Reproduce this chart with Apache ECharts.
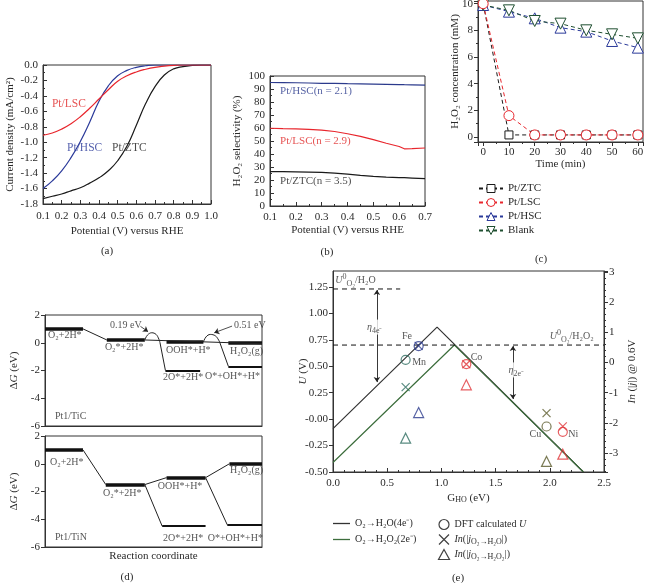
<!DOCTYPE html>
<html><head><meta charset="utf-8">
<script src="https://cdn.jsdelivr.net/npm/echarts@6/dist/echarts.min.js"></script>
<style>html,body{margin:0;padding:0;background:#fff}#c{width:645px;height:583px}</style>
</head><body><div id="c"></div>
<script>
// ---------- (a) LSV curves ----------
const potA = [0.10,0.15,0.20,0.25,0.30,0.35,0.40,0.45,0.50,0.55,0.60,0.65,0.70,0.75,0.80,0.85,0.90,0.95,1.00];
const ztcA = [-1.73,-1.70,-1.67,-1.63,-1.59,-1.53,-1.46,-1.37,-1.24,-1.05,-0.78,-0.50,-0.28,-0.13,-0.05,-0.02,-0.005,0,0];
const hscA = [-1.60,-1.50,-1.37,-1.20,-0.99,-0.74,-0.47,-0.27,-0.14,-0.07,-0.03,-0.01,0,0,0,0,0,0,0];
const lscA = [-0.91,-0.88,-0.83,-0.76,-0.67,-0.56,-0.44,-0.32,-0.21,-0.14,-0.09,-0.055,-0.03,-0.015,-0.005,0,0,0,0];
// ---------- (b) selectivity ----------
const potB = [0.10,0.15,0.20,0.25,0.30,0.35,0.40,0.45,0.50,0.55,0.60,0.62,0.65,0.70];
const hscB = [95.0,94.9,94.8,94.6,94.4,94.3,94.1,94.0,93.8,93.6,93.4,93.3,93.2,93.0];
const lscB = [59.8,59.5,59.3,59.0,58.3,57.3,55.6,53.5,51.0,48.3,45.8,44.0,44.2,44.6];
const ztcB = [26.5,26.4,26.3,26.1,25.8,25.3,24.5,23.5,22.8,22.2,21.9,21.8,21.5,21.0];
// ---------- (c) H2O2 decomposition ----------
const timeC = [0,10,20,30,40,50,60];
const ztcC = [10.0,0.15,0.15,0.15,0.15,0.15,0.15];
const lscC = [10.0,1.6,0.15,0.15,0.15,0.15,0.15];
const hscC = [9.9,9.4,8.9,8.2,7.9,7.2,6.7];
const blankC = [9.9,9.5,8.7,8.5,8.0,7.7,7.4];
// ---------- (d) free energy diagrams: [xStart, xEnd, G] ----------
const ticThick = [[0,1.75,1.0],[2.85,4.6,0.2],[5.6,7.3,0.05],[8.45,10,0.0]];
const ticThin = [[5.55,7.15,-2.0],[8.45,10,-1.7]];
const ticLinks = [[[1.75,1.0],[2.85,0.2]],[[4.6,0.2],[10,-0.07]],[[5.3,0.0],[5.55,-2.0]],[[8.06,0.0],[8.45,-1.7]]];
const ticHump1 = [[4.6,0.2],[4.72,0.55],[4.92,0.72],[5.12,0.6],[5.25,0.25],[5.3,0.0]];
const ticHump2 = [[7.3,0.05],[7.42,0.42],[7.62,0.6],[7.85,0.5],[8.0,0.2],[8.06,0.0]];
const ticArrows = [[[4.4,1.18],[4.75,0.8]],[[8.62,1.2],[7.8,0.72]]];
const tinThick = [[0,1.75,1.0],[2.8,4.6,-1.5],[5.6,7.4,-1.0],[8.5,10,0.0]];
const tinThin = [[5.4,7.4,-4.5],[8.4,10,-4.4]];
const tinLinks = [[[1.75,1.0],[2.8,-1.5]],[[4.6,-1.5],[5.6,-1.0]],[[4.6,-1.5],[5.4,-4.5]],[[7.4,-1.0],[8.5,0.0]],[[7.4,-1.0],[8.4,-4.4]]];
// ---------- (e) volcano plot ----------
const metals = ['Fe','Mn','Co','Cu','Ni'];
const metalColors = ['#2b3a8c','#2f6e62','#e0363a','#5a5a2a','#e0363a'];
const gHO = [0.79,0.67,1.23,1.97,2.12];
const uDFT = [0.69,0.56,0.52,-0.07,-0.12];
const lnJ4e = [0.55,-0.82,-0.06,-1.68,-2.12];
const lnJ2e = [-1.66,-2.51,-0.74,-3.28,-3.04];
const line4eX = [0,0.96,2.31], line4eU = [-0.09,0.87,-0.5];
const line2eX = [0,1.12,2.31], line2eU = [-0.41,0.70,-0.5];
const uH2O = 1.23, uH2O2 = 0.70;

const FONT = 'Liberation Serif';
const TXT = '#2a2a2a';
const AX = '#333';
const RICH = {
  i:{fontStyle:'italic', fontFamily:FONT},
  sub:{fontSize:8, verticalAlign:'bottom', fontFamily:FONT},
  sup:{fontSize:8, verticalAlign:'top', fontFamily:FONT}
};

function grid(l,t,w,h){return {left:l,top:t,width:w,height:h,show:true,borderColor:AX,borderWidth:1,backgroundColor:'transparent',containLabel:false,outerBoundsMode:'none'};}
function axis(o){
  const inside = o.inside;
  return Object.assign({
    type:'value', splitLine:{show:false},
    axisLine:{show:true, onZero:false, lineStyle:{color:AX,width:1}},
    axisTick:{show:true, inside:inside, length:4, lineStyle:{color:AX}},
    minorTick:{show:!!o.minor, splitNumber:o.minor||2, length:2, lineStyle:{color:AX}},
    axisLabel:{fontFamily:FONT, fontSize:11, color:TXT, margin:5},
    nameLocation:'middle', nameMoveOverlap:false,
    nameTextStyle:{fontFamily:FONT, fontSize:11, color:TXT, rich:RICH}
  }, o.cfg);
}
function lbl(o){return Object.assign({fontFamily:FONT,fontSize:11,color:TXT,margin:5},o);}
function lineS(xi,yi,xs,ys,color,extra){
  return Object.assign({type:'line', xAxisIndex:xi, yAxisIndex:yi, data:xs.map((x,i)=>[x,ys[i]]), symbol:'none', silent:true,
    lineStyle:{color:color,width:1.2}, itemStyle:{color:color}}, extra||{});
}
function segs(xi,yi,list,width,extra){
  return Object.assign({type:'lines', coordinateSystem:'cartesian2d', xAxisIndex:xi, yAxisIndex:yi, silent:true,
    data:list.map(s=>({coords:[[s[0],s[2]],[s[1],s[2]]]})), lineStyle:{color:'#111',width:width,opacity:1}}, extra||{});
}
function links(xi,yi,list,width,extra){
  return Object.assign({type:'lines', coordinateSystem:'cartesian2d', xAxisIndex:xi, yAxisIndex:yi, silent:true,
    data:list.map(s=>({coords:s})), lineStyle:{color:'#222',width:width,opacity:1}}, extra||{});
}
function ann(xi,yi,items){
  return {type:'scatter', xAxisIndex:xi, yAxisIndex:yi, symbol:'circle', symbolSize:0, silent:true, z:10,
    itemStyle:{color:'transparent'},
    label:{show:true, position:'inside', verticalAlign:'middle', fontFamily:FONT, fontSize:10, lineHeight:15, rich:RICH},
    data:items.map(it=>({value:[it[0],it[1]], label:{formatter:it[2], align:it[3]||'left', color:it[4]||TXT, fontSize:it[5]||10,
      backgroundColor:it[6]||'transparent', padding:it[6]?[0,1]:0}}))};
}

const series = [];
// (a)
series.push(lineS(0,0,potA,ztcA,'#1a1a1a',{smooth:true}));
series.push(lineS(0,0,potA,hscA,'#2b3a9a',{smooth:true}));
series.push(lineS(0,0,potA,lscA,'#e8262d',{smooth:true}));
series.push(ann(0,0,[[0.148,-0.505,'Pt/LSC','left','#e02828',11.5],[0.229,-1.075,'Pt/HSC','left','#2b3a9a',11.5],[0.47,-1.075,'Pt/ZTC','left','#1a1a1a',11.5]]));
// (b)
series.push(lineS(1,1,potB,hscB,'#2b3a8c'));
series.push(lineS(1,1,potB,lscB,'#e8262d'));
series.push(lineS(1,1,potB,ztcB,'#1a1a1a'));
series.push(ann(1,1,[[0.139,88.5,'Pt/HSC(n = 2.1)','left','#2b3a8c',11],[0.139,50,'Pt/LSC(n = 2.9)','left','#e02828',11],[0.139,19.2,'Pt/ZTC(n = 3.5)','left','#1a1a1a',11]]));
// (c)
const cColors = {'Pt/ZTC':'#1a1a1a','Pt/LSC':'#e8262d','Pt/HSC':'#2b3a9a','Blank':'#1f4f30'};
const TRI_DOWN = 'path://M0,0L10,0L5,9Z';
function cSeries(name,ys,symbol,size){
  const color = cColors[name];
  return {type:'line', name:name, xAxisIndex:2, yAxisIndex:2, data:timeC.map((t,i)=>[t,ys[i]]), symbol:symbol, symbolSize:size, showAllSymbol:true, silent:true,
    lineStyle:{color:color,width:1,type:[4,3]}, itemStyle:{color:'#fff',borderColor:color,borderWidth:1}};
}
series.push(cSeries('Pt/ZTC',ztcC,'rect',8));
series.push(cSeries('Pt/HSC',hscC,'triangle',11));
series.push(cSeries('Blank',blankC,TRI_DOWN,11));
series.push(cSeries('Pt/LSC',lscC,'circle',10));
// (d) top: Pt1/TiC
series.push(segs(3,3,ticThick,3.5));
series.push(segs(3,3,ticThin,2));
series.push(links(3,3,ticLinks,1));
series.push(lineS(3,3,ticHump1.map(p=>p[0]),ticHump1.map(p=>p[1]),'#222',{smooth:0.4,lineStyle:{color:'#222',width:1}}));
series.push(lineS(3,3,ticHump2.map(p=>p[0]),ticHump2.map(p=>p[1]),'#222',{smooth:0.4,lineStyle:{color:'#222',width:1}}));
series.push(links(3,3,ticArrows,0.8,{symbol:['none','arrow'],symbolSize:5}));
series.push(ann(3,3,[
  [0.14,0.5,'O₂+2H*'],[2.76,-0.36,'O₂*+2H*'],[5.58,-0.58,'OOH*+H*'],[8.53,-0.65,'H₂O₂(g)'],
  [5.44,-2.5,'2O*+2H*'],[7.37,-2.45,'O*+OH*+H*'],[0.46,-5.3,'Pt1/TiC'],
  [3.0,1.22,'0.19 eV'],[8.71,1.22,'0.51 eV']]));
// (d) bottom: Pt1/TiN
series.push(segs(4,4,tinThick,3.5));
series.push(segs(4,4,tinThin,2));
series.push(links(4,4,tinLinks,1));
series.push(ann(4,4,[
  [0.23,0.07,'O₂+2H*'],[2.67,-2.16,'O₂*+2H*'],[5.2,-1.65,'OOH*+H*'],[8.53,-0.5,'H₂O₂(g)'],
  [5.44,-5.4,'2O*+2H*'],[7.5,-5.4,'O*+OH*+H*'],[0.46,-5.3,'Pt1/TiN']]));
// (e)
series.push(lineS(5,5,line4eX,line4eU,'#333',{name:'O₂→H₂O(4e⁻)',lineStyle:{color:'#333',width:1.2}}));
series.push(lineS(5,5,line2eX,line2eU,'#3d6e3d',{name:'O₂→H₂O₂(2e⁻)',lineStyle:{color:'#3d6e3d',width:1.2}}));
series.push(lineS(5,5,[0,0.62],[uH2O,uH2O],'#111',{lineStyle:{color:'#111',width:1,type:[5,4]}}));
series.push(lineS(5,5,[0,2.5],[uH2O2,uH2O2],'#111',{lineStyle:{color:'#111',width:1,type:[5,4]}}));
series.push(links(5,5,[[[0.405,1.22],[0.405,0.35]],[[1.66,0.69],[1.66,0.19]]],0.9,{symbol:['arrow','arrow'],symbolSize:5}));
function eMarks(name,yi,vals,symbol,size){
  return {type:'scatter', name:name, xAxisIndex:5, yAxisIndex:yi, symbol:symbol, symbolSize:size, silent:true, z:5,
    itemStyle:{color:'none',borderColor:'#000',borderWidth:1.2},
    data:vals.map((v,i)=>({value:[gHO[i],v], itemStyle:{color:'none',borderColor:metalColors[i],borderWidth:1.2}}))};
}
const XPATH = 'path://M0,0L10,10M10,0L0,10';
series.push(eMarks('DFT calculated U',5,uDFT,'circle',9));
series.push(eMarks('In(|jO2→H2O|)',6,lnJ4e,XPATH,8));
series.push(eMarks('In(|jO2→H2O2|)',6,lnJ2e,'triangle',10));
series.push(ann(5,5,[
  [0.683,0.78,'Fe','center'],[0.73,0.54,'Mn'],[1.27,0.58,'Co'],[1.92,-0.14,'Cu','right'],[2.17,-0.14,'Ni'],
  [0.02,1.31,'{i|U}{sup|0}{sub|O₂}/H₂O'],[2.0,0.78,'{i|U}{sup|0}{sub|O₂}/H₂O₂'],
  [0.385,0.87,'{i|η}{sub|4e⁻}','center',TXT,10,'#fff'],[1.69,0.465,'{i|η}{sub|2e⁻}','center',TXT,10,'#fff']]));

const capStyle = t=>({text:t,font:'11px "Liberation Serif"',fill:TXT,align:'center',verticalAlign:'middle',textAlign:'center',textVerticalAlign:'middle'});
const option = {
  backgroundColor:'#fff',
  animation:false,
  textStyle:{fontFamily:FONT},
  grid:[grid(43,65,168,139),grid(270,76,155,130),grid(478,1,165,141),grid(45,315,217,111),grid(45,436,217,111),grid(333,271,271,201)],
  xAxis:[
    axis({inside:true,minor:2,cfg:{gridIndex:0,min:0.1,max:1.0,interval:0.1,axisLabel:lbl({margin:7,formatter:v=>v.toFixed(1)}),name:'Potential (V) versus RHE',nameGap:22}}),
    axis({inside:true,minor:2,cfg:{gridIndex:1,min:0.1,max:0.7,interval:0.1,axisLabel:lbl({margin:6,formatter:v=>v.toFixed(1)}),name:'Potential (V) versus RHE',nameGap:19}}),
    axis({inside:false,minor:2,cfg:{gridIndex:2,min:-2,max:62,splitNumber:5,axisLabel:lbl({showMinLabel:false,showMaxLabel:false}),name:'Time (min)',nameGap:17}}),
    axis({cfg:{gridIndex:3,min:0,max:10,axisTick:{show:false},axisLabel:{show:false}}}),
    axis({cfg:{gridIndex:4,min:0,max:10,axisTick:{show:false},axisLabel:{show:false},name:'Reaction coordinate',nameGap:4}}),
    axis({inside:true,minor:5,cfg:{gridIndex:5,min:0,max:2.5,interval:0.5,axisLabel:lbl({margin:6,formatter:v=>v.toFixed(1)}),name:'G{sub|HO} (eV)',nameGap:21}})
  ],
  yAxis:[
    axis({inside:true,minor:2,cfg:{gridIndex:0,min:-1.8,max:0,interval:0.2,axisLabel:lbl({formatter:v=>v.toFixed(1)}),name:'Current density (mA/cm²)',nameGap:27}}),
    axis({inside:true,minor:2,cfg:{gridIndex:1,min:0,max:100,interval:10,axisLabel:lbl({}),name:'H₂O₂ selectivity (%)',nameGap:27}}),
    axis({inside:false,minor:2,cfg:{gridIndex:2,min:-0.38,max:10.2,splitNumber:5,axisLabel:lbl({showMinLabel:false,showMaxLabel:false}),name:'H₂O₂ concentration (mM)',nameGap:17}}),
    axis({cfg:{gridIndex:3,min:-6,max:2,interval:2,name:'Δ{i|G} (eV)',nameGap:25}}),
    axis({cfg:{gridIndex:4,min:-6,max:2,interval:2,name:'Δ{i|G} (eV)',nameGap:25}}),
    axis({cfg:{gridIndex:5,min:-0.5,max:1.4,interval:0.25,axisLabel:lbl({showMaxLabel:false,formatter:v=>Math.abs(v)<1e-9?'-0.00':v.toFixed(2)}),name:'{i|U} (V)',nameGap:24}}),
    axis({minor:5,cfg:{gridIndex:5,position:'right',min:-3.63,max:3.03,splitNumber:6,axisLabel:lbl({showMinLabel:false,showMaxLabel:false}),name:'{i|In} (|{i|j}|) @ 0.6V',nameGap:23,nameRotate:90}})
  ],
  legend:[
    {data:['Pt/ZTC','Pt/LSC','Pt/HSC','Blank'].map(n=>({name:n,
        itemStyle:{color:'#fff',borderColor:cColors[n],borderWidth:1}})),
      orient:'vertical',left:478,top:183,height:60,padding:0,itemWidth:24,itemHeight:10,itemGap:3,selectedMode:false,
      textStyle:{fontFamily:FONT,fontSize:11,color:TXT}},
    {data:[{name:'O₂→H₂O(4e⁻)',icon:'rect',itemStyle:{color:'#333'}},{name:'O₂→H₂O₂(2e⁻)',icon:'rect',itemStyle:{color:'#3d6e3d'}}],
      orient:'vertical',left:333,top:517,height:40,padding:0,itemWidth:17,itemHeight:1.3,itemGap:3,selectedMode:false,
      textStyle:{fontFamily:FONT,fontSize:10,color:TXT,lineHeight:13,rich:RICH}},
    {data:[
      {name:'DFT calculated U',icon:'circle',itemStyle:{color:'none',borderColor:'#111',borderWidth:1.2}},
      {name:'In(|jO2→H2O|)',icon:XPATH,itemStyle:{color:'none',borderColor:'#111',borderWidth:1.2}},
      {name:'In(|jO2→H2O2|)',icon:'triangle',itemStyle:{color:'none',borderColor:'#111',borderWidth:1.2}}],
      orient:'vertical',left:436,top:517,height:60,padding:0,itemWidth:11,itemHeight:10,itemGap:0,selectedMode:false,
      formatter:n=>({'DFT calculated U':'DFT calculated {i|U}','In(|jO2→H2O|)':'{i|In}(|{i|j}{sub|O₂→H₂O}|)','In(|jO2→H2O2|)':'{i|In}(|{i|j}{sub|O₂→H₂O₂}|)'}[n]),
      textStyle:{fontFamily:FONT,fontSize:10,color:TXT,lineHeight:12,rich:RICH}}
  ],
  graphic:[
    {type:'text',x:107,y:251,style:capStyle('(a)')},
    {type:'text',x:327,y:252,style:capStyle('(b)')},
    {type:'text',x:541,y:259,style:capStyle('(c)')},
    {type:'text',x:127,y:577,style:capStyle('(d)')},
    {type:'text',x:458,y:578,style:capStyle('(e)')}
  ],
  series:series
};
const chart = echarts.init(document.getElementById('c'),null,{renderer:'canvas'});
chart.setOption(option);
</script></body></html>
